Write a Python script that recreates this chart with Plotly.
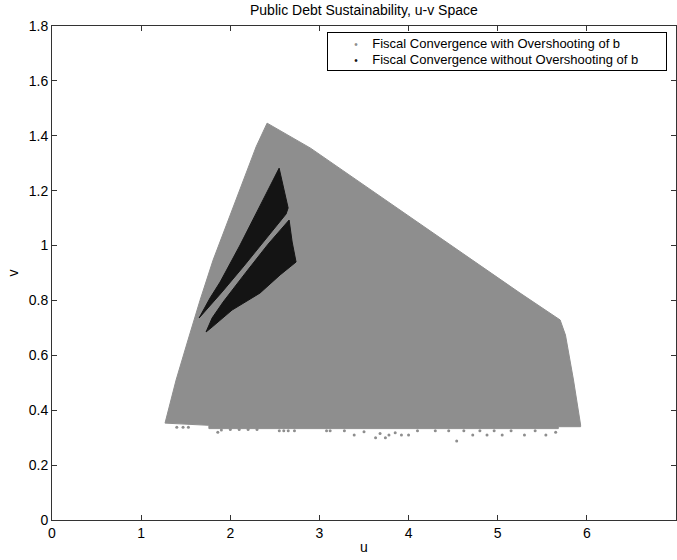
import plotly.graph_objects as go

# Boundary of the region where fiscal convergence overshoots b (u, v)
over_u = [1.268, 1.392, 1.526, 1.661, 1.807, 1.998, 2.177, 2.290, 2.413, 2.90, 5.25, 5.70,
          5.76, 5.85, 5.93, 5.93, 5.68, 5.68, 1.76, 1.76, 1.268]
over_v = [0.353, 0.510, 0.656, 0.801, 0.947, 1.111, 1.257, 1.360, 1.446, 1.355, 0.827, 0.729,
          0.674, 0.510, 0.346, 0.340, 0.340, 0.333, 0.333, 0.345, 0.353]

# Scattered overshooting solutions just below the main mass
stray_u = [1.40, 1.47, 1.53, 1.86, 1.90, 2.00, 2.10, 2.20, 2.30, 2.55, 2.60, 2.65, 2.72,
           3.08, 3.12, 3.28, 3.39, 3.50, 3.63, 3.68, 3.74, 3.78, 3.85, 3.92, 4.00, 4.10,
           4.30, 4.45, 4.54, 4.62, 4.72, 4.80, 4.88, 4.96, 5.05, 5.15, 5.30, 5.42, 5.54, 5.65]
stray_v = [0.338, 0.338, 0.338, 0.320, 0.328, 0.330, 0.330, 0.330, 0.330, 0.325, 0.325, 0.325, 0.325,
           0.325, 0.325, 0.325, 0.310, 0.322, 0.300, 0.315, 0.300, 0.310, 0.318, 0.310, 0.310, 0.325,
           0.325, 0.325, 0.288, 0.325, 0.310, 0.325, 0.310, 0.325, 0.310, 0.325, 0.310, 0.325, 0.310, 0.320]

# Region without overshooting of b: upper and lower lobes (u, v)
upper_u = [2.548, 2.604, 2.649, 2.626, 2.391, 2.144, 1.908, 1.717, 1.650, 1.773, 1.886,
           2.110, 2.334, 2.548]
upper_v = [1.282, 1.202, 1.137, 1.115, 1.020, 0.922, 0.831, 0.758, 0.736, 0.809, 0.867,
           1.002, 1.148, 1.282]
lower_u = [2.660, 2.694, 2.738, 2.559, 2.334, 2.020, 1.796, 1.728, 1.796, 1.919, 2.177,
           2.424, 2.660]
lower_v = [1.093, 1.013, 0.940, 0.893, 0.827, 0.765, 0.703, 0.685, 0.736, 0.794, 0.903,
           1.005, 1.093]

x_ticks = [0, 1, 2, 3, 4, 5, 6, 7]
y_ticks = [0, 0.2, 0.4, 0.6, 0.8, 1, 1.2, 1.4, 1.6, 1.8]

series_names = ["Fiscal Convergence with Overshooting of b",
                "Fiscal Convergence without Overshooting of b"]

GRAY = "#8e8e8e"
BLACK = "#141414"
FONT = "Liberation Sans, Arial, sans-serif"

fig = go.Figure()

fig.add_trace(go.Scatter(x=over_u, y=over_v, mode="lines", fill="toself",
                         fillcolor=GRAY, line=dict(color=GRAY, width=1),
                         name=series_names[0], showlegend=False, hoverinfo="skip"))
fig.add_trace(go.Scatter(x=stray_u, y=stray_v, mode="markers",
                         marker=dict(color=GRAY, size=3), name=series_names[0],
                         showlegend=False))
for uu, vv in ((upper_u, upper_v), (lower_u, lower_v)):
    fig.add_trace(go.Scatter(x=uu, y=vv, mode="lines", fill="toself",
                             fillcolor=BLACK, line=dict(color=BLACK, width=1),
                             name=series_names[1], showlegend=False, hoverinfo="skip"))

# Compact boxed legend: a dot in the series colour followed by its name
nb = "\u00a0"
legend_lines = [
    f"{nb * 7}<span style='font-size:10px;color:{c}'>\u2022</span>{nb * 4}{name}"
    for c, name in zip((GRAY, BLACK), series_names)
]
fig.add_annotation(
    xref="paper", yref="paper", x=0.4407, y=0.9879, xanchor="left", yanchor="top",
    text="<br>".join(legend_lines), align="left", valign="middle",
    showarrow=False, width=336, height=35, borderpad=1,
    bordercolor="black", borderwidth=1, bgcolor="white",
    font=dict(family=FONT, size=13, color="black"),
)

axis_common = dict(showgrid=False, zeroline=False, showline=True, linecolor="#333333",
                   linewidth=1, mirror="ticks", ticks="inside", ticklen=5,
                   tickcolor="#333333", tickfont=dict(family=FONT, size=14, color="black"))

fig.update_layout(
    width=677, height=560,
    margin=dict(l=52, r=1, t=26, b=40),
    paper_bgcolor="white", plot_bgcolor="white",
    font=dict(family=FONT, color="black"),
    showlegend=False,
    title=dict(text="Public Debt Sustainability, u-v Space", x=0.5375, xanchor="center",
               y=0.982, yanchor="middle", font=dict(family=FONT, size=14)),
    xaxis=dict(range=[0, 7], tickvals=x_ticks, title=dict(text="u", standoff=2,
               font=dict(family=FONT, size=14)), **axis_common),
    yaxis=dict(range=[0, 1.8], tickvals=y_ticks, title=dict(text="v", standoff=6,
               font=dict(family=FONT, size=14)), **axis_common),
)

fig.write_html("out.html")
